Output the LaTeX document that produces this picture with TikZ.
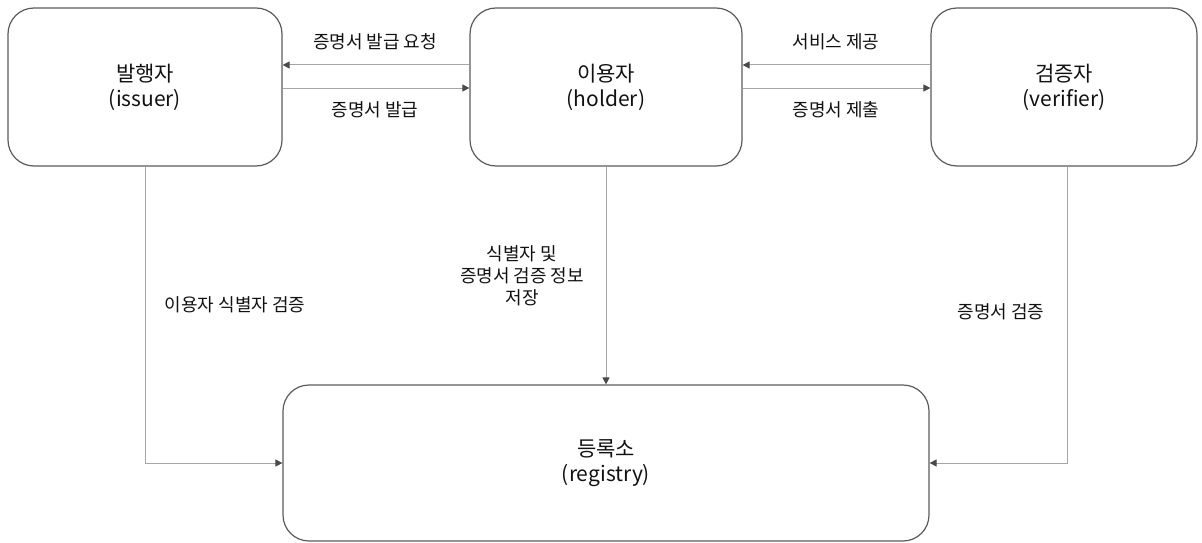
\documentclass[tikz,border=0pt]{standalone}
\usepackage{fontspec}
\setmainfont{Noto Sans CJK KR}
\usetikzlibrary{arrows.meta}
\definecolor{boxline}{HTML}{5A5A5A}
\definecolor{connline}{HTML}{A6A6A6}
\definecolor{tipcol}{HTML}{4A4A4A}
\definecolor{txt}{HTML}{111111}
\tikzset{
  actor/.style={draw=boxline, line width=1.2pt, rounded corners=26pt, align=center,
    text=txt, font=\fontsize{21}{25}\selectfont, inner sep=0pt},
  conn/.style={draw=connline, line width=1pt,
    -{Triangle[length=7pt,width=7pt,fill=tipcol,color=tipcol]}},
  lbl/.style={text=txt, font=\fontsize{18}{22}\selectfont, align=center, inner sep=0pt},
}
\begin{document}
\begin{tikzpicture}[x=1pt,y=-1pt]
\useasboundingbox (0,0) rectangle (1202,543);
\node[actor, minimum width=274pt, minimum height=158pt] (issuer) at (145,87) {발행자\\(issuer)};
\node[actor, minimum width=272pt, minimum height=158pt] (holder) at (606,87) {이용자\\(holder)};
\node[actor, minimum width=266pt, minimum height=158pt] (verifier) at (1064,87) {검증자\\(verifier)};
\node[actor, minimum width=646pt, minimum height=156pt] (registry) at (606,463) {등록소\\(registry)};

\draw[conn] ([yshift=22pt]holder.west) -- ([yshift=22pt]issuer.east);
\draw[conn] ([yshift=-1pt]issuer.east) -- ([yshift=-1pt]holder.west);
\draw[conn] ([yshift=22pt]verifier.west) -- ([yshift=22pt]holder.east);
\draw[conn] ([yshift=-1pt]holder.east) -- ([yshift=-1pt]verifier.west);
\draw[conn] (issuer.south) |- (registry.west);
\draw[conn] (holder.south) -- (registry.north);
\draw[conn] ([xshift=3pt]verifier.south) |- (registry.east);

\node[lbl] (l1) at (375,42) {증명서 발급 요청};
\node[lbl] (l2) at (375,110) {증명서 발급};
\node[lbl] (l3) at (836,42) {서비스 제공};
\node[lbl] (l4) at (836,110) {증명서 제출};
\node[lbl] (l5) at (235,305) {이용자 식별자 검증};
\node[lbl] (l6) at (522,276) {식별자 및\\증명서 검증 정보\\저장};
\node[lbl] (l7) at (1001,312) {증명서 검증};
\end{tikzpicture}
\end{document}
